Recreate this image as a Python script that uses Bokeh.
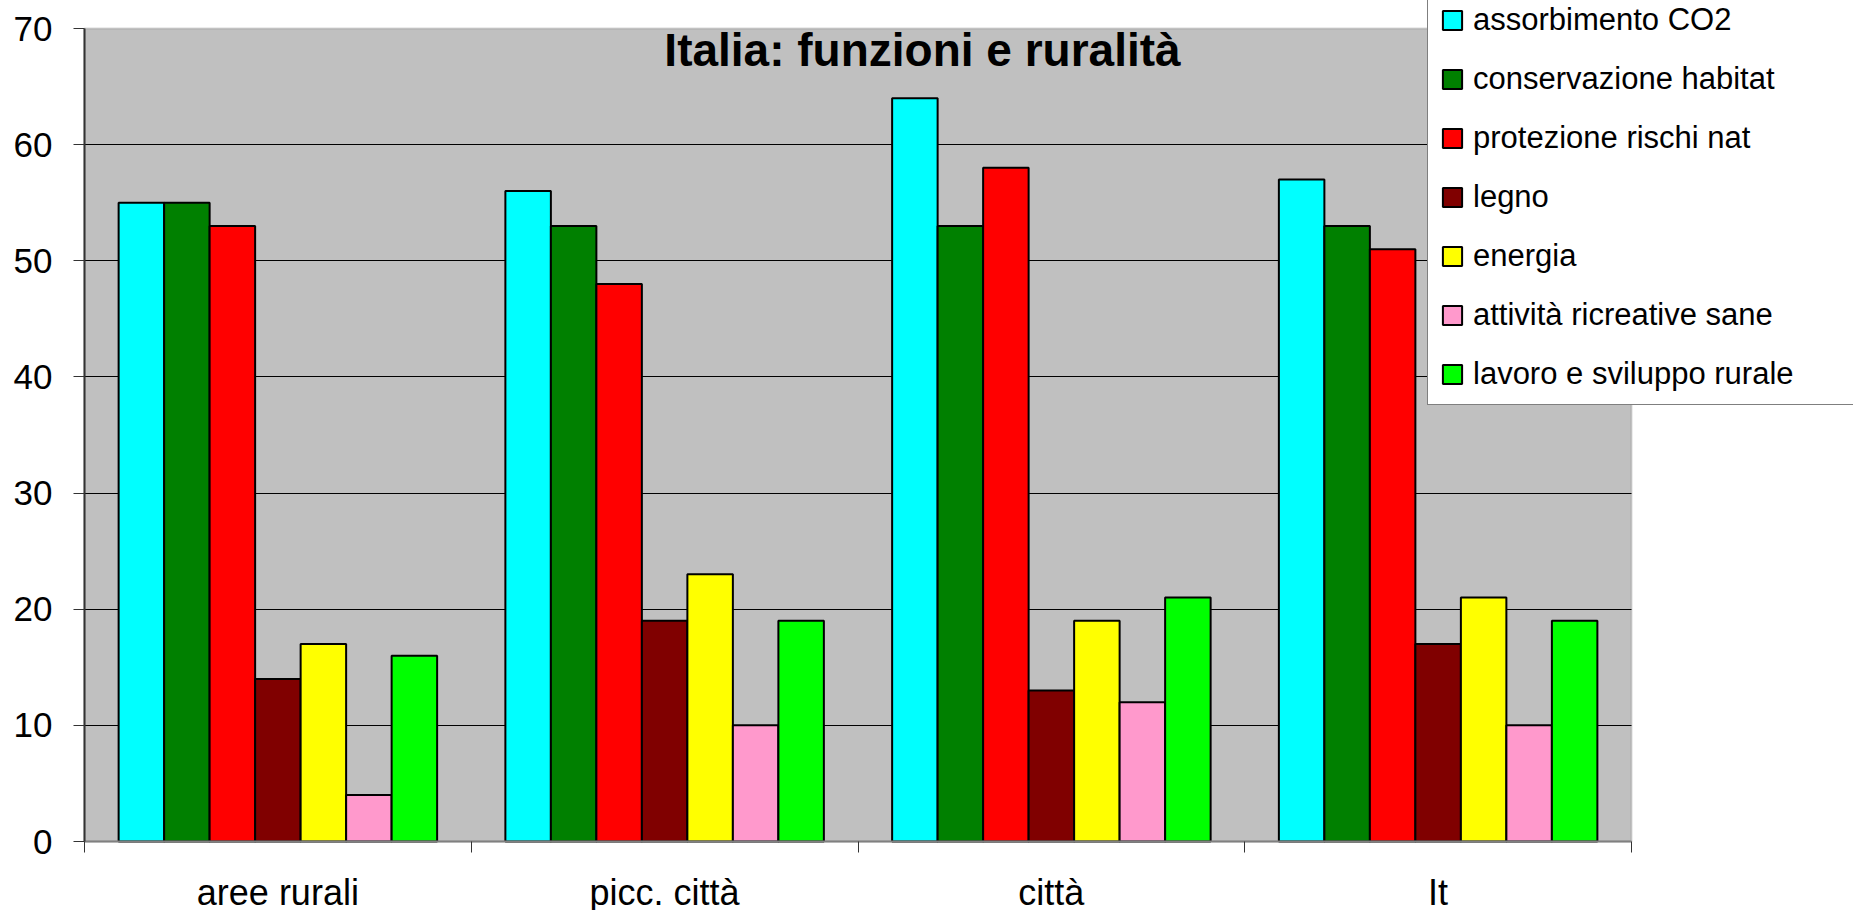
from bokeh.plotting import figure
from bokeh.models import (ColumnDataSource, Range1d, FixedTicker, Legend, LegendItem,
                          Label, BoxAnnotation)
from bokeh.transform import dodge
from bokeh.embed import file_html
from bokeh.resources import INLINE

# ---- data ----
categories = ["aree rurali", "picc. città", "città", "It"]
series = ["assorbimento CO2", "conservazione habitat", "protezione rischi nat",
          "legno", "energia", "attività ricreative sane", "lavoro e sviluppo rurale"]
assorbimento_co2 = [55, 56, 64, 57]
conservazione_habitat = [55, 53, 53, 53]
protezione_rischi = [53, 48, 58, 51]
legno = [14, 19, 13, 17]
energia = [17, 23, 19, 21]
attivita_ricreative = [4, 10, 12, 10]
lavoro_sviluppo = [16, 19, 21, 19]
colors = ["#00FFFF", "#008000", "#FF0000", "#800000", "#FFFF00", "#FF99CC", "#00FF00"]
title_text = "Italia: funzioni e ruralità"
y_ticks = [0, 10, 20, 30, 40, 50, 60, 70]

values = [assorbimento_co2, conservazione_habitat, protezione_rischi, legno,
          energia, attivita_ricreative, lavoro_sviluppo]

FONT = "Liberation Sans"
W, H = 1853, 910
# plot-area placement inside the canvas (pixels)
PL, PR, PT, PB = 84, 1631, 28, 841

ncat = len(categories)
x_lo, x_hi = -0.5, ncat - 0.5
y_lo, y_hi = y_ticks[0], y_ticks[-1]
xpx = (PR - PL) / (x_hi - x_lo)
ypx = (PB - PT) / (y_hi - y_lo)

p = figure(width=W, height=H, output_backend="svg", toolbar_location=None,
           x_range=Range1d(x_lo - PL / xpx, x_hi + (W - PR) / xpx),
           y_range=Range1d(y_lo - (H - PB) / ypx, y_hi + PT / ypx),
           min_border=0)
p.background_fill_color = "white"
p.border_fill_color = "white"
p.outline_line_color = None

# grey plot area
area = BoxAnnotation(left=x_lo, right=x_hi, bottom=y_lo, top=y_hi,
                     fill_color="#C0C0C0", fill_alpha=1.0,
                     line_color="#808080", line_width=2, level="image")
p.add_layout(area)

data = dict(pos=list(range(ncat)))
for i, v in enumerate(values):
    data[f"s{i}"] = v
src = ColumnDataSource(data)

n = len(series)
w = 1.0 / (n + 1.5)
items = []
for i, (name, col) in enumerate(zip(series, colors)):
    r = p.vbar(x=dodge("pos", (i - (n - 1) / 2) * w, range=p.x_range),
               top=f"s{i}", bottom=0, width=w, source=src,
               fill_color=col, line_color="black", line_width=2)
    items.append(LegendItem(label=name, renderers=[r]))

# x axis: labels at centers, tick marks at category boundaries
xa = p.xaxis[0]
xa.fixed_location = y_lo
xa.bounds = (x_lo, x_hi)
xa.ticker = FixedTicker(ticks=list(range(ncat)),
                        minor_ticks=[k - 0.5 for k in range(ncat + 1)])
xa.major_label_overrides = {k: c for k, c in enumerate(categories)}
xa.major_tick_out = 0
xa.major_tick_in = 0
xa.minor_tick_out = 11
xa.minor_tick_in = 0
xa.minor_tick_line_color = "#333333"
xa.minor_tick_line_width = 1
xa.axis_line_color = "#808080"
xa.axis_line_width = 2
xa.major_label_text_font = FONT
xa.major_label_text_font_size = "36px"
xa.major_label_text_color = "black"
xa.major_label_standoff = 19

ya = p.yaxis[0]
ya.fixed_location = x_lo
ya.bounds = (y_lo, y_hi)
ya.ticker = FixedTicker(ticks=y_ticks)
ya.major_tick_out = 11
ya.major_tick_in = 0
ya.minor_tick_line_color = None
ya.major_tick_line_color = "#333333"
ya.axis_line_color = "#333333"
ya.axis_line_width = 2
ya.major_label_text_font = FONT
ya.major_label_text_font_size = "35px"
ya.major_label_text_color = "black"
ya.major_label_standoff = 21

p.xgrid.grid_line_color = None
p.ygrid.ticker = FixedTicker(ticks=y_ticks[1:-1])
p.ygrid.cross_bounds = (x_lo, x_hi)
p.ygrid.grid_line_color = "black"
p.ygrid.grid_line_width = 1

legend = Legend(items=items, location=(1427, H - 405), orientation="vertical",
                label_text_font=FONT, label_text_font_size="31px",
                label_text_color="black", label_height=36, label_width=380,
                label_standoff=9, glyph_width=24, glyph_height=24, spacing=23,
                padding=12, margin=0,
                border_line_color="black", border_line_width=1.5,
                background_fill_color="white", background_fill_alpha=1.0)
p.add_layout(legend)

title = Label(x=x_lo + (922 - PL) / xpx, y=y_hi - (49 - PT) / ypx, text=title_text,
              text_align="center", text_baseline="alphabetic", text_font=FONT,
              text_font_size="46px", text_font_style="bold", text_color="black")
p.add_layout(title)

open("out.html", "w").write(file_html(p, INLINE))
